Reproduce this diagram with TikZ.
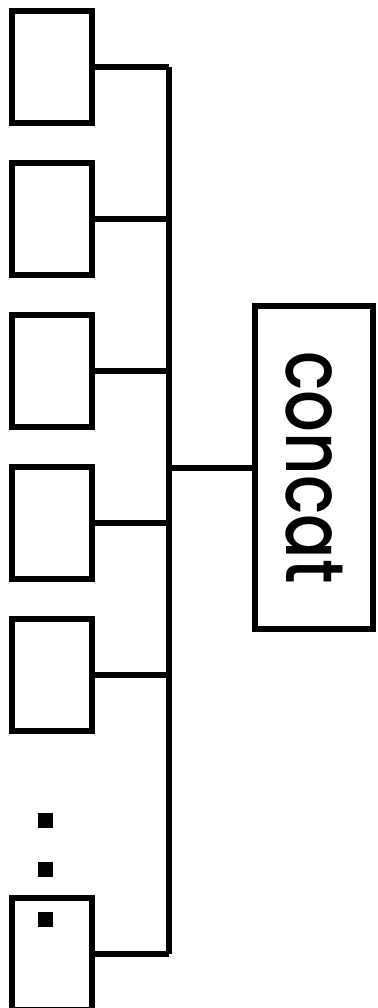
\documentclass[tikz,border=0pt]{standalone}
\usepackage{fontspec}
\setmainfont{Poppins}
\newfontfamily\catfont{Poppins Medium}
\usepackage{tikz}

\tikzset{
  cell/.style = {draw, line width=6pt, minimum width=80pt, minimum height=112pt, inner sep=0pt},
  dot/.style = {fill, minimum size=15pt, inner sep=0pt},
  wire/.style = {line width=6pt}
}

\begin{document}
\begin{tikzpicture}[x=1pt, y=-1pt]
				\useasboundingbox (0,0) rectangle (377,1008);
				% stacked inputs
				\foreach \i in {0,...,4} {
					\node[cell] (in\i) at (52,67+152*\i) {};
				}
				\node[cell] (in5) at (52,954) {};
				\node[dot] (d1) at (45,820) {};
				\node[dot] (d2) at (45,869) {};
				\node[dot] (d3) at (45,919) {};
				% bus
				\coordinate (bustop) at (169,67);
				\coordinate (busbot) at (169,954);
				\draw[wire] (bustop) -- (busbot);
				\foreach \i in {0,...,5} {
					\draw[wire] (in\i.east) -- (in\i.east -| bustop);
				}
				\node[draw, line width=6pt, minimum width=118pt, minimum height=323pt, inner sep=0pt] (cat) at (314,467.5) {};
				\node[rotate=-90, xscale=0.8, font=\catfont\fontsize{82}{90}\selectfont] (label) at (cat.center) {concat};
				\draw[wire] (cat.west -| bustop) -- (cat.west);
			\end{tikzpicture}
\end{document}
